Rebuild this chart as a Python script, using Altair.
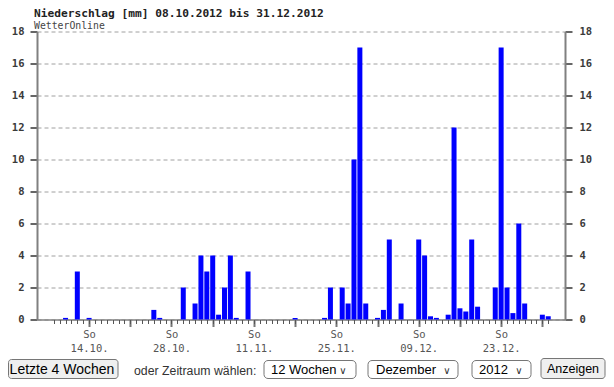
import altair as alt
import pandas as pd

# ---------------- data ----------------
start_date = "2012-10-08"
end_date = "2012-12-31"
rain_dates = ["2012-10-10", "2012-10-12", "2012-10-14", "2012-10-25", "2012-10-26",
              "2012-10-30", "2012-11-01", "2012-11-02", "2012-11-03", "2012-11-04",
              "2012-11-05", "2012-11-06", "2012-11-07", "2012-11-08", "2012-11-10",
              "2012-11-18", "2012-11-23", "2012-11-24", "2012-11-26", "2012-11-27",
              "2012-11-28", "2012-11-29", "2012-11-30", "2012-12-02", "2012-12-03",
              "2012-12-04", "2012-12-06", "2012-12-09", "2012-12-10", "2012-12-11",
              "2012-12-12", "2012-12-14", "2012-12-15", "2012-12-16", "2012-12-17",
              "2012-12-18", "2012-12-19", "2012-12-22", "2012-12-23", "2012-12-24",
              "2012-12-25", "2012-12-26", "2012-12-27", "2012-12-30", "2012-12-31"]
rain_mm = [0.1, 3.0, 0.1, 0.6, 0.1,
           2.0, 1.0, 4.0, 3.0, 4.0,
           0.3, 2.0, 4.0, 0.1, 3.0,
           0.1, 0.1, 2.0, 2.0, 1.0,
           10.0, 17.0, 1.0, 0.1, 0.6,
           5.0, 1.0, 5.0, 4.0, 0.2,
           0.1, 0.3, 12.0, 0.7, 0.5,
           5.0, 0.8, 2.0, 17.0, 2.0,
           0.4, 6.0, 1.0, 0.3, 0.2]
y_ticks = [0, 2, 4, 6, 8, 10, 12, 14, 16, 18]
weekday_label = "So"
labeled_sundays = ["14.10.", "28.10.", "11.11.", "25.11.", "09.12.", "23.12."]

title_text = "Niederschlag [mm] 08.10.2012 bis 31.12.2012"
subtitle_text = "WetterOnline"

# ---------------- derived tables ----------------
t0 = pd.Timestamp(start_date)
all_days = pd.date_range(start_date, end_date, freq="D")
n_days = len(all_days)
df = pd.DataFrame({"date": pd.to_datetime(rain_dates), "mm": rain_mm})
df["day"] = (df["date"] - t0).dt.days

sundays = [int((d - t0).days) for d in all_days if d.weekday() == 6]
label_map = {}
for d in all_days:
    if d.weekday() == 6 and d.strftime("%d.%m.") in labeled_sundays:
        label_map[int((d - t0).days)] = d.strftime("%d.%m.")
label_expr = " : ".join(
    f"datum.value == {k} ? ['{weekday_label}', '{v}']" for k, v in label_map.items()
) + " : ''"

# ---------------- layout ----------------
PAD_L, PAD_T = 29, 23.5
W, H = 528, 288
PAD_R = 598 - PAD_L - W
PAD_B = 371 - PAD_T - H
OX, OY = 8 + PAD_L, 8 + PAD_T  # page position of plot origin

x_scale = alt.Scale(domain=[-2, n_days + 1], nice=False, zero=False)
y_scale = alt.Scale(domain=[0, 18], nice=False)

MONO = "DejaVu Sans Mono"
AX_GRAY = "#808080"

bars = alt.Chart(df).mark_bar(size=5, color="#0000ff").encode(
    x=alt.X("day:Q", scale=x_scale, title=None,
            axis=alt.Axis(orient="bottom", values=sundays, tickSize=7, tickWidth=2,
                          tickColor="#777777", domain=True, domainColor=AX_GRAY,
                          domainWidth=1.5, labelExpr=label_expr, labelFont=MONO,
                          labelFontSize=10.5, labelColor="#555555", labelLineHeight=14,
                          labelPadding=3, labelFlush=False, labelOverlap=False,
                          grid=False)),
    y=alt.Y("mm:Q", scale=y_scale, title=None,
            axis=alt.Axis(orient="left", values=y_ticks, tickSize=7, tickWidth=2,
                          tickColor="#666666", domainColor=AX_GRAY, domainWidth=2,
                          labelFont=MONO, labelFontWeight="bold", labelFontSize=10.5,
                          labelColor="#3a3a3a", labelPadding=6, grid=True,
                          gridDash=[4, 3], gridColor="#a0a0a0", gridWidth=1)),
)

minor = alt.Chart(df).mark_bar(size=5, opacity=0).encode(
    x=alt.X("day:Q", scale=x_scale, title=None,
            axis=alt.Axis(orient="bottom", values=list(range(n_days)), tickSize=4,
                          tickWidth=1, tickColor="#555555", domain=False, labels=False,
                          grid=False)),
    y=alt.Y("mm:Q", scale=y_scale, title=None,
            axis=alt.Axis(orient="right", values=y_ticks, tickSize=7, tickWidth=2,
                          tickColor="#666666", domainColor=AX_GRAY, domainWidth=2,
                          labelFont=MONO, labelFontWeight="bold", labelFontSize=10.5,
                          labelColor="#3a3a3a", labelPadding=7, grid=False)),
)


def txt(text, px, py, **kw):
    return alt.Chart(pd.DataFrame({"t": [text]})).mark_text(**kw).encode(
        x=alt.value(px - OX), y=alt.value(py - OY), text="t:N")


def box(x1, x2, y1, y2, fill, stroke="#767676", radius=3):
    return alt.Chart(pd.DataFrame({"t": [0]})).mark_rect(
        fill=fill, stroke=stroke, strokeWidth=1, cornerRadius=radius).encode(
        x=alt.value(x1 - OX), x2=alt.value(x2 - OX),
        y=alt.value(y1 - OY), y2=alt.value(y2 - OY))


SANS = "Liberation Sans"
annotations = [
    txt(title_text, 34, 16.5, align="left", baseline="alphabetic", font=MONO,
        fontWeight="bold", fontSize=11.2, color="#222222"),
    txt(subtitle_text, 34, 28.5, align="left", baseline="alphabetic", font=MONO,
        fontSize=9.8, color="#444444"),
    # form controls under the chart
    box(8.5, 118, 359.5, 378.5, "#efefef"),
    txt("Letzte 4 Wochen", 62, 369.5, align="center", baseline="middle", font=SANS,
        fontSize=14, color="#000000"),
    txt("oder Zeitraum wählen:", 134, 370.5, align="left", baseline="middle",
        font=SANS, fontSize=12.3, color="#333333"),
    box(264, 356, 360.5, 378.5, "#ffffff", radius=4),
    txt("12 Wochen", 271, 370, align="left", baseline="middle", font=SANS,
        fontSize=13, color="#000000"),
    txt("∨", 343, 371, align="center", baseline="middle", font="DejaVu Sans",
        fontSize=10, color="#333333"),
    box(368, 458, 360.5, 378.5, "#ffffff", radius=4),
    txt("Dezember", 376, 370, align="left", baseline="middle", font=SANS,
        fontSize=13, color="#000000"),
    txt("∨", 447, 371, align="center", baseline="middle", font="DejaVu Sans",
        fontSize=10, color="#333333"),
    box(472, 531, 360.5, 378.5, "#ffffff", radius=4),
    txt("2012", 479, 370, align="left", baseline="middle", font=SANS,
        fontSize=13, color="#000000"),
    txt("∨", 519, 371, align="center", baseline="middle", font="DejaVu Sans",
        fontSize=10, color="#333333"),
    box(541, 605, 358.5, 378.5, "#efefef"),
    txt("Anzeigen", 573, 368.5, align="center", baseline="middle", font=SANS,
        fontSize=12.5, color="#000000"),
]

chart = alt.layer(bars, minor, *annotations).resolve_axis(
    x="independent", y="independent"
).properties(
    width=W, height=H,
    autosize=alt.AutoSizeParams(type="none"),
    padding={"left": PAD_L, "top": PAD_T, "right": PAD_R, "bottom": PAD_B},
    background="#ffffff",
).configure_view(stroke=None)

chart.save("out.html", embed_options={"renderer": "svg", "actions": False})
